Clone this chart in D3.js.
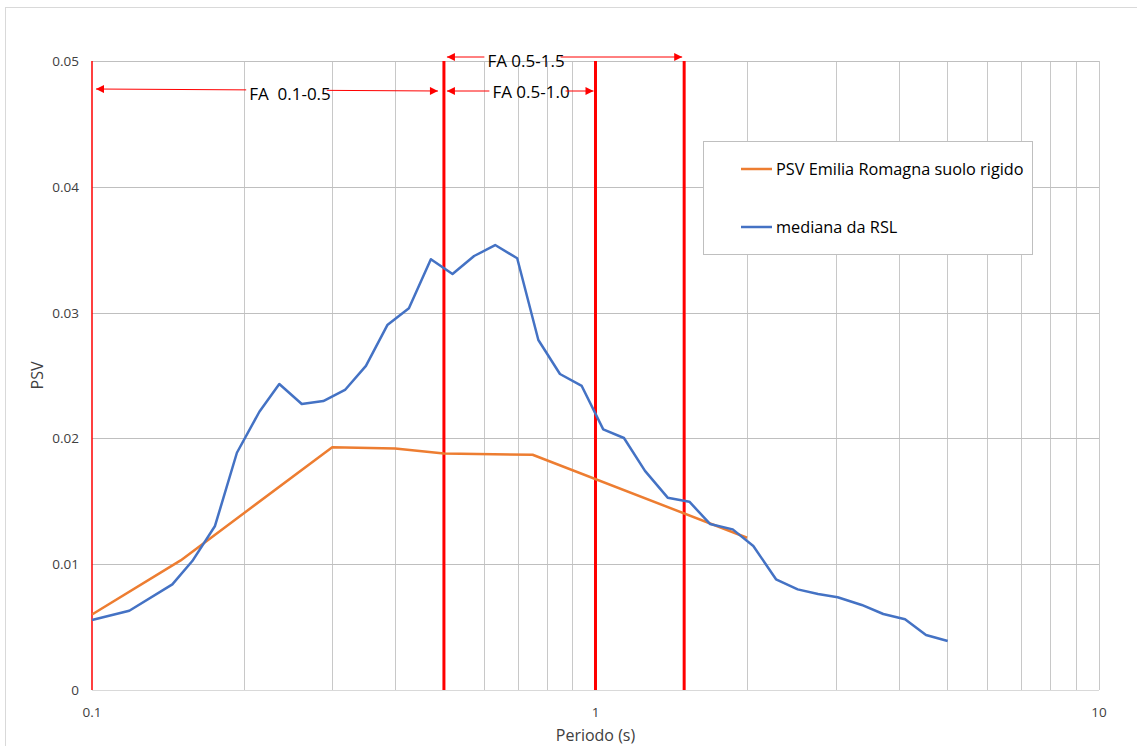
<!DOCTYPE html>
<html>
<head>
    <meta charset="utf-8">
    <title>PSV - mediana da RSL</title>
    <style>
            html, body {
            margin: 0;
            padding: 0;
            background-color: white;
            }
            svg {
            display: block;
            font-family: "Open Sans", "Noto Sans", sans-serif;
            }
            .tick-label {
            font-size: 13.5px;
            fill: #404040;
            }
            .axis-title {
            font-size: 16px;
            fill: #404040;
            }
            .fa-label {
            font-size: 17px;
            fill: #000;
            }
            .legend-text {
            font-size: 16.3px;
            fill: #000;
            }
    </style>
</head>
<body>
<script src="https://cdn.jsdelivr.net/npm/d3@7"></script>
<script>
            // Serie "mediana da RSL" (periodo in s, PSV)
            var periodiRSL = [0.1, 0.1186, 0.1444, 0.1582, 0.1755, 0.194, 0.215, 0.2355, 0.261, 0.288,
                              0.318, 0.350, 0.386, 0.426, 0.471, 0.520, 0.574, 0.632, 0.699, 0.770,
                              0.850, 0.939, 1.036, 1.139, 1.254, 1.391, 1.536, 1.688, 1.873, 2.058,
                              2.283, 2.521, 2.767, 3.027, 3.379, 3.729, 4.119, 4.533, 5.006];
            var valoriRSL = [0.00556, 0.0063, 0.0084, 0.01025, 0.01304, 0.01886, 0.02212, 0.02432, 0.02273, 0.02297,
                             0.02385, 0.02576, 0.02901, 0.03034, 0.03424, 0.03307, 0.0345, 0.03537, 0.03432, 0.02782,
                             0.02512, 0.02417, 0.02072, 0.02003, 0.01742, 0.01529, 0.01497, 0.0132, 0.01277, 0.01145,
                             0.0088, 0.0080, 0.00763, 0.00737, 0.00676, 0.00604, 0.00562, 0.00437, 0.0039];

            // Serie "PSV Emilia Romagna suolo rigido"
            var periodiER = [0.1, 0.15, 0.3, 0.4, 0.5, 0.75, 2.0];
            var valoriER = [0.0060, 0.0103, 0.0193, 0.0192, 0.0188, 0.0187, 0.0121];

            // Intervalli FA (linee rosse verticali + frecce)
            var limitiFA = [0.1, 0.5, 1.0, 1.5];
            var intervalliFA = [
                {da: 0.1, a: 0.5, label: "FA\u00a0\u00a00.1-0.5"},
                {da: 0.5, a: 1.5, label: "FA 0.5-1.5"},
                {da: 0.5, a: 1.0, label: "FA 0.5-1.0"}
            ];

            var yTicks = [0, 0.01, 0.02, 0.03, 0.04, 0.05];
            var xTicks = [0.1, 1, 10];
            var legendaNomi = ["PSV Emilia Romagna suolo rigido", "mediana da RSL"];
            var legendaColori = ["#ED7D31", "#4472C4"];

            var width = 1137;
            var height = 746;

            var svg = d3.select("body")
                .append("svg")
                .attr("width", width)
                .attr("height", height);

            // bordo del grafico (Excel chart area)
            svg.append("rect")
                .attr("x", 5.5).attr("y", 7.5)
                .attr("width", 1140).attr("height", 760)
                .attr("fill", "white")
                .attr("stroke", "#d9d9d9");

            var x = d3.scaleLog().domain([0.1, 10]).range([92, 1099]);
            var y = d3.scaleLinear().domain([0, 0.05]).range([690, 61]);

            function px(v) { return Math.round(v) + 0.5; }

            // griglia verticale (decadi + sottodivisioni)
            var xGrid = [];
            [0.1, 1].forEach(function(dec) {
                for (var k = 2; k <= 10; k++) xGrid.push(dec * k);
            });
            svg.append("g").selectAll("line")
                .data(xGrid)
                .enter().append("line")
                .attr("x1", function(d) { return px(x(d)); })
                .attr("x2", function(d) { return px(x(d)); })
                .attr("y1", y(0.05))
                .attr("y2", y(0))
                .attr("stroke", "#c8c8c8")
                .attr("stroke-width", 1);

            // griglia orizzontale
            svg.append("g").selectAll("line")
                .data(yTicks.slice(1))
                .enter().append("line")
                .attr("x1", x(0.1))
                .attr("x2", x(10))
                .attr("y1", function(d) { return px(y(d)); })
                .attr("y2", function(d) { return px(y(d)); })
                .attr("stroke", "#bfbfbf")
                .attr("stroke-width", 1);

            // asse x
            svg.append("line")
                .attr("x1", x(0.1)).attr("x2", x(10))
                .attr("y1", px(y(0))).attr("y2", px(y(0)))
                .attr("stroke", "#d9d9d9");

            // etichette assi
            svg.append("g").selectAll("text")
                .data(yTicks)
                .enter().append("text")
                .attr("class", "tick-label")
                .attr("x", 79)
                .attr("y", function(d) { return y(d) + 5; })
                .attr("text-anchor", "end")
                .text(function(d) { return d === 0 ? "0" : d3.format(".2f")(d); });

            svg.append("g").selectAll("text")
                .data(xTicks)
                .enter().append("text")
                .attr("class", "tick-label")
                .attr("x", function(d) { return x(d); })
                .attr("y", 717)
                .attr("text-anchor", "middle")
                .text(function(d) { return d; });

            svg.append("text")
                .attr("class", "axis-title")
                .attr("x", x(1))
                .attr("y", 741)
                .attr("text-anchor", "middle")
                .text("Periodo (s)");

            svg.append("text")
                .attr("class", "axis-title")
                .attr("transform", "translate(43," + ((y(0) + y(0.05)) / 2) + ") rotate(-90)")
                .attr("text-anchor", "middle")
                .text("PSV");

            // linee rosse verticali
            svg.append("g").selectAll("line")
                .data(limitiFA)
                .enter().append("line")
                .attr("x1", function(d) { return x(d); })
                .attr("x2", function(d) { return x(d); })
                .attr("y1", y(0.05))
                .attr("y2", y(0))
                .attr("stroke", "#ff0000")
                .attr("stroke-width", function(d, i) { return i === 0 ? 1.5 : 3; });

            // curve
            var line = d3.line()
                .x(function(d) { return x(d[0]); })
                .y(function(d) { return y(d[1]); });

            svg.append("path")
                .datum(d3.zip(periodiER, valoriER))
                .attr("d", line)
                .attr("fill", "none")
                .attr("stroke", legendaColori[0])
                .attr("stroke-width", 2.5)
                .attr("stroke-linejoin", "round");

            svg.append("path")
                .datum(d3.zip(periodiRSL, valoriRSL))
                .attr("d", line)
                .attr("fill", "none")
                .attr("stroke", legendaColori[1])
                .attr("stroke-width", 2.5)
                .attr("stroke-linejoin", "round");

            // frecce FA
            var defs = svg.append("defs");
            defs.append("marker")
                .attr("id", "freccia")
                .attr("viewBox", "0 0 10 10")
                .attr("refX", 10).attr("refY", 5)
                .attr("markerUnits", "userSpaceOnUse")
                .attr("markerWidth", 11).attr("markerHeight", 8)
                .attr("orient", "auto-start-reverse")
                .append("path")
                .attr("d", "M0,0 L10,5 L0,10 Z")
                .attr("fill", "#ff0000");

            var frecceY = [[89, 91], [57, 57], [91, 91]];
            var labelX = [290, 526, 531];
            var labelY = [100, 67, 98];

            intervalliFA.forEach(function(f, i) {
                var x0 = x(f.da) + (i === 0 ? 4 : 3);
                var x1 = x(f.a) - (i === 0 ? 6 : 2);
                var y0 = frecceY[i][0], y1 = frecceY[i][1];
                var label = svg.append("text")
                    .attr("class", "fa-label")
                    .attr("x", labelX[i])
                    .attr("y", labelY[i])
                    .attr("text-anchor", "middle")
                    .text(f.label);
                var w = label.node().getComputedTextLength();
                var gapL = labelX[i] - w / 2 - 3;
                var gapR = labelX[i] + w / 2 - 4;
                function yAt(xx) { return y0 + (y1 - y0) * (xx - x0) / (x1 - x0); }
                svg.append("line")
                    .attr("x1", gapL).attr("y1", yAt(gapL))
                    .attr("x2", x0).attr("y2", y0)
                    .attr("stroke", "#ff0000").attr("stroke-width", 1)
                    .attr("marker-end", "url(#freccia)");
                svg.append("line")
                    .attr("x1", gapR).attr("y1", yAt(gapR))
                    .attr("x2", x1).attr("y2", y1)
                    .attr("stroke", "#ff0000").attr("stroke-width", 1)
                    .attr("marker-end", "url(#freccia)");
            });

            // legenda
            var legenda = svg.append("g");
            legenda.append("rect")
                .attr("x", 703.5).attr("y", 141.5)
                .attr("width", 329).attr("height", 113)
                .attr("fill", "white")
                .attr("stroke", "#bfbfbf");

            var voci = legenda.selectAll("g.voce")
                .data(legendaNomi)
                .enter().append("g")
                .attr("class", "voce")
                .attr("transform", function(d, i) { return "translate(741," + (169 + i * 58) + ")"; });
            voci.append("line")
                .attr("x1", 0).attr("x2", 31)
                .attr("stroke", function(d, i) { return legendaColori[i]; })
                .attr("stroke-width", 2.5);
            voci.append("text")
                .attr("class", "legend-text")
                .attr("x", 35)
                .attr("y", 6)
                .text(function(d) { return d; });
</script>
</body>
</html>
